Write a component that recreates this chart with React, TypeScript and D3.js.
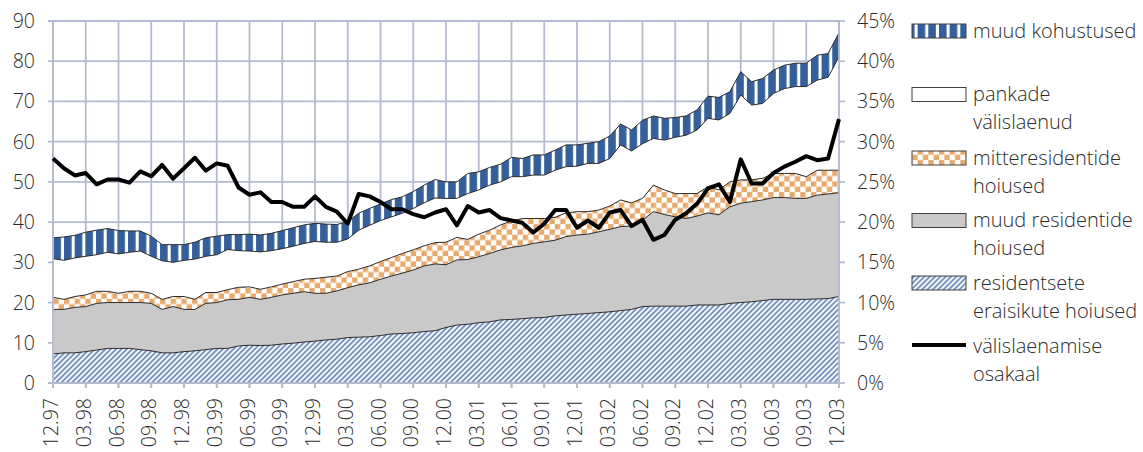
import React from "react";
import * as d3 from "d3";

const categories = [
  "12.97",
  "01.98","02.98","03.98","04.98","05.98","06.98","07.98","08.98","09.98","10.98","11.98","12.98",
  "01.99","02.99","03.99","04.99","05.99","06.99","07.99","08.99","09.99","10.99","11.99","12.99",
  "01.00","02.00","03.00","04.00","05.00","06.00","07.00","08.00","09.00","10.00","11.00","12.00",
  "01.01","02.01","03.01","04.01","05.01","06.01","07.01","08.01","09.01","10.01","11.01","12.01",
  "01.02","02.02","03.02","04.02","05.02","06.02","07.02","08.02","09.02","10.02","11.02","12.02",
  "01.03","02.03","03.03","04.03","05.03","06.03","07.03","08.03","09.03","10.03","11.03","12.03",
];

// residentsete eraisikute hoiused
const residentHouseholdDeposits = [
  7.2, 7.5, 7.5, 7.8, 8.2, 8.6, 8.6, 8.6, 8.3, 8.0, 7.5, 7.5, 7.8,
  8.0, 8.3, 8.6, 8.6, 9.2, 9.4, 9.3, 9.4, 9.7, 9.9, 10.2, 10.4,
  10.7, 10.9, 11.3, 11.4, 11.5, 11.8, 12.2, 12.3, 12.5, 12.8, 13.0, 13.8,
  14.4, 14.6, 15.0, 15.2, 15.7, 15.8, 16.0, 16.2, 16.3, 16.7, 16.9, 17.1,
  17.3, 17.5, 17.7, 18.0, 18.3, 19.0, 19.1, 19.1, 19.1, 19.1, 19.4, 19.4,
  19.4, 19.8, 20.0, 20.2, 20.5, 20.8, 20.8, 20.8, 20.8, 20.9, 21.0, 21.5,
];
// muud residentide hoiused
const otherResidentDeposits = [
  11.1, 10.8, 11.3, 11.2, 11.6, 11.4, 11.4, 11.4, 11.7, 11.8, 10.8, 11.5, 10.5,
  10.3, 11.5, 11.4, 12.1, 11.6, 11.9, 11.5, 11.9, 12.2, 12.4, 12.5, 11.9,
  11.6, 12.0, 12.4, 13.0, 13.4, 14.0, 14.4, 15.0, 15.6, 16.3, 16.6, 15.6,
  16.2, 16.1, 16.4, 17.0, 17.4, 17.9, 18.1, 18.5, 18.8, 18.8, 19.5, 19.7,
  19.7, 20.1, 20.5, 20.9, 20.7, 21.5, 23.5, 22.8, 22.2, 21.8, 22.1, 22.9,
  22.4, 24.0, 24.7, 24.9, 25.0, 25.3, 25.3, 25.1, 25.1, 25.8, 26.0, 25.8,
];
// mitteresidentide hoiused
const nonResidentDeposits = [
  3.0, 2.5, 2.7, 2.9, 3.0, 2.8, 2.3, 2.8, 2.8, 2.5, 2.5, 2.5, 3.2,
  2.5, 2.7, 2.5, 2.5, 3.0, 2.6, 2.5, 2.6, 2.7, 2.9, 3.1, 3.7,
  4.0, 3.7, 4.0, 3.9, 4.2, 4.4, 4.6, 4.9, 5.0, 5.0, 5.3, 5.6,
  5.6, 5.0, 5.6, 5.8, 6.2, 6.6, 6.8, 6.2, 5.8, 5.7, 5.9, 5.8,
  5.6, 5.4, 5.8, 6.6, 5.8, 5.4, 6.6, 6.1, 5.8, 6.2, 5.6, 6.5,
  6.2, 6.2, 5.8, 5.4, 5.4, 6.0, 6.0, 6.2, 5.4, 6.2, 5.9, 5.6,
];
// pankade välislaenud
const interbankForeignLoans = [
  9.6, 9.7, 9.6, 9.6, 9.1, 9.7, 9.8, 9.7, 10.0, 9.2, 9.6, 8.5, 9.0,
  10.0, 9.0, 9.4, 10.0, 9.1, 8.9, 9.3, 9.0, 8.8, 8.8, 8.9, 9.2,
  8.7, 8.4, 8.1, 9.7, 10.1, 10.2, 10.1, 10.0, 10.3, 10.7, 11.1, 10.9,
  9.7, 11.4, 11.0, 11.2, 10.7, 11.0, 10.4, 10.8, 10.8, 11.7, 11.5, 11.3,
  12.0, 11.6, 11.8, 13.7, 12.9, 13.6, 11.6, 12.4, 14.0, 14.5, 15.8, 17.0,
  17.4, 17.0, 21.1, 18.6, 18.6, 19.9, 21.1, 21.6, 22.4, 22.4, 23.1, 28.2,
];
// muud kohustused
const otherLiabilities = [
  5.2, 5.8, 5.6, 6.0, 6.1, 5.9, 5.8, 5.3, 5.0, 5.0, 4.0, 4.4, 3.9,
  4.2, 4.6, 4.6, 3.7, 4.0, 4.2, 4.2, 4.3, 4.5, 4.6, 4.6, 4.5,
  4.5, 4.4, 4.3, 4.2, 4.2, 4.1, 4.3, 4.1, 4.2, 4.4, 4.6, 4.1,
  4.1, 5.0, 4.5, 4.4, 4.4, 4.8, 4.5, 5.0, 5.0, 5.0, 5.4, 5.3,
  5.0, 5.4, 5.6, 5.2, 5.2, 5.8, 5.6, 5.4, 4.9, 4.8, 5.0, 5.5,
  5.6, 5.4, 5.8, 5.8, 6.2, 5.8, 5.8, 5.8, 5.8, 6.2, 5.9, 6.0,
];
// välislaenamise osakaal, %
const foreignBorrowingShare = [
  27.9, 26.7, 25.8, 26.1, 24.7, 25.3, 25.3, 24.9, 26.3, 25.7, 27.1, 25.4, 26.7,
  28.0, 26.4, 27.3, 27.0, 24.3, 23.4, 23.7, 22.5, 22.5, 21.9, 21.9, 23.2,
  21.9, 21.3, 19.8, 23.5, 23.2, 22.5, 21.6, 21.6, 21.0, 20.6, 21.2, 21.6,
  19.6, 22.0, 21.2, 21.5, 20.5, 20.2, 19.9, 18.7, 19.8, 21.5, 21.5, 19.3,
  20.2, 19.3, 21.2, 21.5, 19.5, 20.3, 17.8, 18.4, 20.3, 21.1, 22.3, 24.2,
  24.7, 22.5, 27.8, 24.8, 24.8, 26.1, 26.9, 27.5, 28.2, 27.7, 27.9, 32.8,
];

const xTickLabels = [
  "12.97","03.98","06.98","09.98","12.98","03.99","06.99","09.99","12.99",
  "03.00","06.00","09.00","12.00","03.01","06.01","09.01","12.01",
  "03.02","06.02","09.02","12.02","03.03","06.03","09.03","12.03",
];
const leftTicks = [0, 10, 20, 30, 40, 50, 60, 70, 80, 90];
const rightTicks = [0, 5, 10, 15, 20, 25, 30, 35, 40, 45];

const seriesKeys = ["s1", "s2", "s3", "s4", "s5"];
const seriesNames = [
  ["residentsete", "eraisikute hoiused"],
  ["muud residentide", "hoiused"],
  ["mitteresidentide", "hoiused"],
  ["pankade", "välislaenud"],
  ["muud kohustused"],
];
const lineName = ["välislaenamise", "osakaal"];

const FONT = "'Open Sans', 'DejaVu Sans', sans-serif";
const GRID = "#b5bbcf";
const TEXT = "#2b2b2b";

export default function App() {
  const W = 1143, H = 452;
  const x0 = 53, x1 = 839, yBottom = 383, yTop = 21;

  const x = d3.scalePoint<string>().domain(categories).range([x0, x1]);
  const y = d3.scaleLinear().domain([0, 90]).range([yBottom, yTop]);
  const yR = d3.scaleLinear().domain([0, 45]).range([yBottom, yTop]);

  const table = categories.map((c, i) => ({
    cat: c,
    s1: residentHouseholdDeposits[i],
    s2: otherResidentDeposits[i],
    s3: nonResidentDeposits[i],
    s4: interbankForeignLoans[i],
    s5: otherLiabilities[i],
  }));
  const stacked = d3.stack<any>().keys(seriesKeys)(table);

  const area = d3.area<any>()
    .x((d) => x(d.data.cat) as number)
    .y0((d) => y(d[0]))
    .y1((d) => y(d[1]));
  const topLine = d3.line<any>()
    .x((d) => x(d.data.cat) as number)
    .y((d) => y(d[1]));
  const shareLine = d3.line<number>()
    .x((_, i) => x(categories[i]) as number)
    .y((d) => yR(d));

  const fills = ["url(#diag)", "#c9c9c9", "url(#checker)", "#ffffff", "url(#vstripe)"];

  const legendItems = [
    { key: "s5", fill: fills[4], lines: seriesNames[4], base: 37.5 },
    { key: "s4", fill: fills[3], lines: seriesNames[3], base: 101 },
    { key: "s3", fill: fills[2], lines: seriesNames[2], base: 164.5 },
    { key: "s2", fill: fills[1], lines: seriesNames[1], base: 227 },
    { key: "s1", fill: fills[0], lines: seriesNames[0], base: 289.5 },
  ];
  const lx = 912, lw = 54, ltx = 973, lineGap = 28;

  return (
    <div style={{ position: "absolute", left: 0, top: 0 }}>
      <svg width={W} height={H} style={{ display: "block", background: "#fff" }}>
        <defs>
          <pattern id="vstripe" patternUnits="userSpaceOnUse" width={10.67} height={10.67}>
            <rect width={10.67} height={10.67} fill="#345f9b" />
            <rect x={7.6} width={3.07} height={10.67} fill="#ffffff" />
          </pattern>
          <pattern id="checker" patternUnits="userSpaceOnUse" width={10.67} height={10.67}>
            <rect width={10.67} height={10.67} fill="#ffffff" />
            <rect x={0} y={0} width={5.33} height={5.33} fill="#e7aa6c" />
            <rect x={5.33} y={5.33} width={5.34} height={5.34} fill="#e7aa6c" />
          </pattern>
          <pattern id="diag" patternUnits="userSpaceOnUse" width={3.77} height={10} patternTransform="rotate(45)">
            <rect width={3.77} height={10} fill="#ffffff" />
            <rect width={2.0} height={10} fill="#7894c2" />
          </pattern>
        </defs>

        {/* gridlines */}
        {leftTicks.map((t) => (
          <line key={"h" + t} x1={x0 - 5} x2={x1} y1={y(t)} y2={y(t)} stroke={GRID} strokeWidth={1.8} />
        ))}
        {xTickLabels.map((c) => (
          <line key={"v" + c} x1={x(c)} x2={x(c)} y1={yTop} y2={yBottom + 5} stroke={GRID} strokeWidth={1.8} />
        ))}

        {/* stacked areas */}
        {stacked.map((s, i) => (
          <path key={s.key} d={area(s) as string} fill={fills[i]} stroke="none" />
        ))}
        {stacked.map((s) => (
          <path key={"o" + s.key} d={topLine(s) as string} fill="none" stroke="#2a2a2a" strokeWidth={1} />
        ))}

        {/* axes */}
        <line x1={x0} x2={x0} y1={yTop} y2={yBottom} stroke={GRID} strokeWidth={1.8} />
        <line x1={x1} x2={x1} y1={yTop} y2={yBottom} stroke={GRID} strokeWidth={1.8} />
        <line x1={x0 - 5} x2={x1} y1={yBottom} y2={yBottom} stroke={GRID} strokeWidth={1.8} />
        {xTickLabels.map((c) => (
          <line key={"xt" + c} x1={x(c)} x2={x(c)} y1={yBottom} y2={yBottom + 5} stroke={GRID} strokeWidth={1.8} />
        ))}
        {rightTicks.map((t) => (
          <line key={"rt" + t} x1={x1} x2={x1 + 6} y1={yR(t)} y2={yR(t)} stroke={GRID} strokeWidth={1.8} />
        ))}

        {/* share line */}
        <path d={shareLine(foreignBorrowingShare) as string} fill="none" stroke="#000" strokeWidth={4} strokeLinejoin="round" />

        {/* left tick labels */}
        {leftTicks.map((t) => (
          <text key={"lt" + t} x={35} y={y(t)} dy="0.36em" textAnchor="end" fontFamily={FONT} fontWeight={300} fontSize={19.5} fill={TEXT}>
            {t}
          </text>
        ))}
        {/* right tick labels */}
        {rightTicks.map((t) => (
          <text key={"rl" + t} x={857} y={yR(t)} dy="0.36em" textAnchor="start" fontFamily={FONT} fontWeight={300} fontSize={19.5} fill={TEXT}>
            {t + "%"}
          </text>
        ))}
        {/* x labels */}
        {xTickLabels.map((c) => (
          <text key={"xl" + c} transform={`translate(${(x(c) as number) + 5},398) rotate(-90)`} textAnchor="end" fontFamily={FONT} fontWeight={300} fontSize={19.5} fill={TEXT}>
            {c}
          </text>
        ))}

        {/* legend */}
        {legendItems.map((it) => (
          <g key={"lg" + it.key}>
            <rect x={lx} y={it.base - 13.5} width={lw} height={14} fill={it.fill} stroke="#404040" strokeWidth={1} />
            {it.lines.map((ln, j) => (
              <text key={j} x={ltx} y={it.base + j * lineGap} fontFamily={FONT} fontWeight={300} fontSize={20} fill={TEXT}>
                {ln}
              </text>
            ))}
          </g>
        ))}
        <line x1={lx} x2={lx + lw} y1={345} y2={345} stroke="#000" strokeWidth={4} />
        {lineName.map((ln, j) => (
          <text key={"ln" + j} x={ltx} y={352.5 + j * lineGap} fontFamily={FONT} fontWeight={300} fontSize={20} fill={TEXT}>
            {ln}
          </text>
        ))}
      </svg>
    </div>
  );
}
